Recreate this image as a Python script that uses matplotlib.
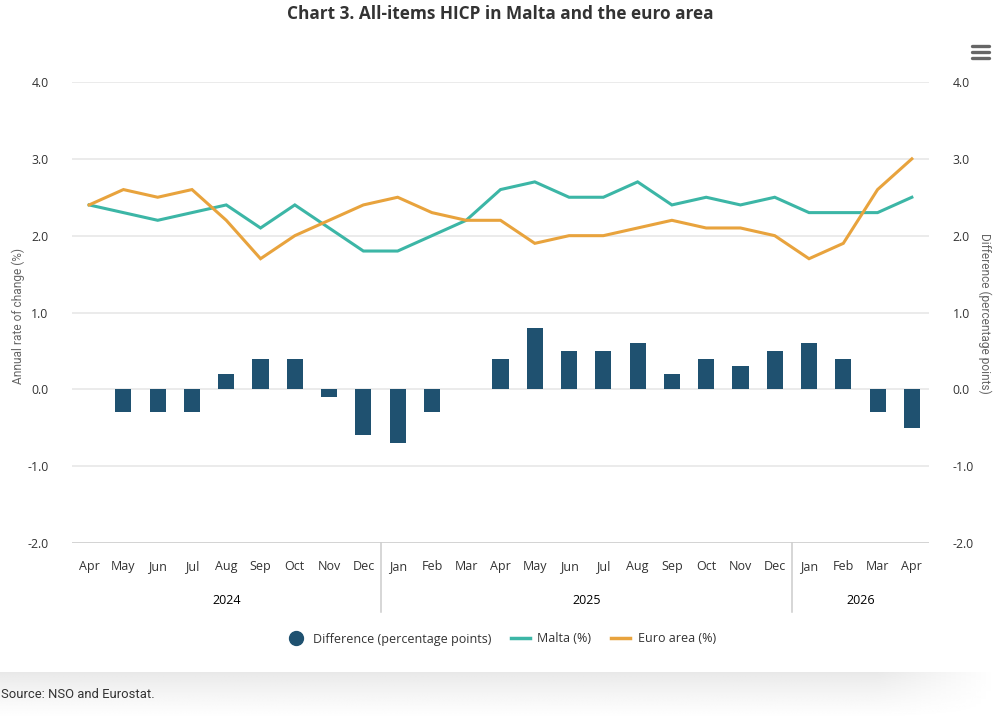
import numpy as np
import matplotlib
matplotlib.use("Agg")
import matplotlib.pyplot as plt
from matplotlib.lines import Line2D
from matplotlib.patches import FancyBboxPatch
import matplotlib.transforms as mtransforms

months = ["Apr", "May", "Jun", "Jul", "Aug", "Sep", "Oct", "Nov", "Dec",
          "Jan", "Feb", "Mar", "Apr", "May", "Jun", "Jul", "Aug", "Sep", "Oct", "Nov", "Dec",
          "Jan", "Feb", "Mar", "Apr"]
years = ["2024", "2025", "2026"]
year_spans = [(0, 8), (9, 20), (21, 24)]
malta = [2.4, 2.3, 2.2, 2.3, 2.4, 2.1, 2.4, 2.1, 1.8, 1.8, 2.0, 2.2, 2.6, 2.7, 2.5, 2.5,
         2.7, 2.4, 2.5, 2.4, 2.5, 2.3, 2.3, 2.3, 2.5]
euro = [2.4, 2.6, 2.5, 2.6, 2.2, 1.7, 2.0, 2.2, 2.4, 2.5, 2.3, 2.2, 2.2, 1.9, 2.0, 2.0,
        2.1, 2.2, 2.1, 2.1, 2.0, 1.7, 1.9, 2.6, 3.0]
diff = [0.0, -0.3, -0.3, -0.3, 0.2, 0.4, 0.4, -0.1, -0.6, -0.7, -0.3, 0.0, 0.4, 0.8, 0.5,
        0.5, 0.6, 0.2, 0.4, 0.3, 0.5, 0.6, 0.4, -0.3, -0.5]
yticks = [-2.0, -1.0, 0.0, 1.0, 2.0, 3.0, 4.0]

C_MALTA = "#3cb6a6"
C_EURO = "#e8a33d"
C_BAR = "#1f5170"
TXT = "#333333"

W, H = 997, 718
fig = plt.figure(figsize=(W / 100, H / 100), dpi=100)
fig.patch.set_facecolor("white")

# bottom shadow band (darkest at top, fading downward and toward the right edge)
bg = fig.add_axes([0, 0, 1, (H - 672) / H], zorder=-5)
grad = np.linspace(0.0, 1.0, 60)[:, None]
vals = 0.91 + 0.09 * grad ** 0.8
img = np.repeat(vals, 200, axis=1)
xfade = np.clip((np.linspace(0, 1, 200) - 0.88) / 0.12, 0, 1)[None, :]
img = img + (1 - img) * xfade
bg.imshow(img, cmap="gray", vmin=0, vmax=1, aspect="auto", extent=[0, 1, 0, 1])
bg.axis("off")

L, R = 72 / W, 929 / W
B, T = 1 - 543 / H, 1 - 82 / H
ax = fig.add_axes([L, B, R - L, T - B])
ax2 = ax.twinx()
ax.set_zorder(ax2.get_zorder() + 1)
ax.patch.set_visible(False)

x = np.arange(len(months))
bars = ax2.bar(x, diff, width=0.47, color=C_BAR, zorder=3)
ax.plot(x, malta, color=C_MALTA, lw=2.2, solid_joinstyle="miter")
ax.plot(x, euro, color=C_EURO, lw=2.2, solid_joinstyle="miter")

for a in (ax, ax2):
    a.set_ylim(-2, 4)
    a.set_yticks(yticks)
    a.set_xlim(-0.5, len(months) - 0.5)
    for s in a.spines.values():
        s.set_visible(False)
ax.set_yticklabels([f"{v:.1f}" for v in yticks], family="Open Sans", fontsize=8.8, color=TXT)
ax2.set_yticklabels([f"{v:.1f}" for v in yticks], family="Open Sans", fontsize=8.8, color=TXT)
ax.tick_params(axis="y", length=0, pad=17)
ax2.tick_params(axis="y", length=0, pad=17)
for v in yticks[1:]:
    ax2.axhline(v, color="#e6e6e6", lw=1.1, zorder=0)
ax2.axhline(-2, color="#cccccc", lw=1.2, zorder=0)

ax.set_xticks(x)
ax.set_xticklabels(months, family="Open Sans", fontsize=9, color=TXT)
ax.tick_params(axis="x", length=0, pad=12)
ax2.tick_params(axis="x", bottom=False, labelbottom=False, top=False, labeltop=False)

trans = mtransforms.blended_transform_factory(ax.transData, ax.transAxes)
ax_h = 543 - 82
for sep in [8.5, 20.5]:
    ax.plot([sep, sep], [0, -(612 - 543) / ax_h], color="#cccccc", lw=1.1,
            transform=trans, clip_on=False)
for yr, (a0, a1) in zip(years, year_spans):
    ax.text((a0 + a1) / 2, -(601 - 543) / ax_h, yr, transform=trans, ha="center", va="center",
            family="Open Sans", fontsize=9, color="black")

fig.text(18 / W, 1 - 316 / H, "Annual rate of change (%)", rotation=90, ha="center", va="center",
         family="Roboto", fontsize=8.6, color="#666666")
fig.text(985 / W, 1 - 313 / H, "Difference (percentage points)", rotation=270, ha="center",
         va="center", family="Roboto", fontsize=8.6, color="#666666")

fig.text(500 / W, 1 - 14 / H, "Chart 3. All-items HICP in Malta and the euro area", ha="center",
         va="center", family="Open Sans", fontweight="bold", fontsize=12.4, color=TXT)

# menu icon
for yy in [46, 52, 58]:
    fig.add_artist(Line2D([972 / W, 989 / W], [1 - yy / H, 1 - yy / H], color="#666666", lw=2.4,
                          solid_capstyle="round"))

handles = [
    Line2D([], [], marker="o", ls="none", color=C_BAR, markersize=10),
    Line2D([], [], color=C_MALTA, lw=2.5),
    Line2D([], [], color=C_EURO, lw=2.5),
]
fig.legend(handles, ["Difference (percentage points)", "Malta (%)", "Euro area (%)"],
           loc="center", bbox_to_anchor=(501 / W, 1 - 639 / H), ncol=3, frameon=False,
           prop={"family": "Open Sans", "size": 9}, labelcolor=TXT, handlelength=1.5,
           handletextpad=0.6, columnspacing=1.6)

fig.text(1 / W, 1 - 694 / H, "Source: NSO and Eurostat.", ha="left", va="center",
         family="Roboto", fontsize=9.4, color=TXT)

fig.savefig("out.png", dpi=100)
